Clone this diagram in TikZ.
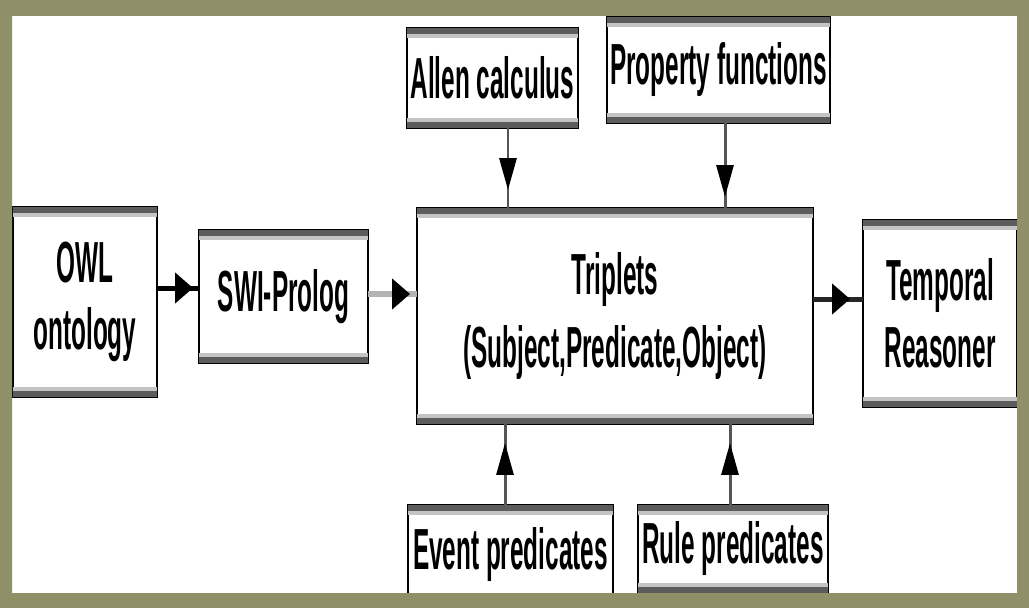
\documentclass[tikz,border=0pt]{standalone}
\usepackage{fontspec}
\setmainfont[FakeStretch=0.42,UprightFont=*,BoldFont=* Bold]{Liberation Sans}
\usetikzlibrary{arrows.meta,decorations.markings}

\definecolor{frameOlive}{HTML}{8F9068}
\definecolor{barDark}{HTML}{5C5C5C}
\definecolor{barLight}{HTML}{C4C4C4}
\definecolor{lineGray}{HTML}{555555}
\definecolor{feedGray}{HTML}{B4B4B4}

\begin{document}
\begin{tikzpicture}
[x=0.02cm,y=-0.02cm,
 blockDecorate/.style={draw,line width=0.04cm,fill=white,outer sep=0pt,inner sep=0pt,
   align=center,font=\fontsize{33}{38}\selectfont\bfseries},%
 hflow/.style={line width=0.1cm,postaction=decorate,
   decoration={markings,mark=at position -#1 with {\arrow[black]{Triangle[length=0.36cm,width=0.6cm]}}}},%
 vflow/.style={line width=0.06cm,draw=lineGray,postaction=decorate,
   decoration={markings,mark=at position -#1 with {\arrow[black]{Triangle[length=0.64cm,width=0.34cm]}}}}]
\useasboundingbox (0,0) rectangle (1029,608);
\fill[white] (0,0) rectangle (1029,608);
%% blocks
\foreach \nodename/\x/\y/\w/\h/\txt in {
  owl/85/302/2.88/3.8/{OWL\\ontology},
  swi/283.5/296.5/3.38/2.66/{SWI-Prolog},
  trip/615/316/7.92/4.32/{Triplets\\[3pt](Subject,Predicate,Object)},
  temp/940/313.5/3.08/3.74/{Temporal\\Reasoner},
  allen/492.5/78/3.42/2.0/{Allen calculus},
  prop/718.5/70/4.46/2.12/{Property functions},
  event/510.5/555/4.1/2.0/{Event predicates},
  rule/733/549/3.8/1.76/{Rule predicates}}
{
  \node[blockDecorate,minimum width=\w cm,minimum height=\h cm] (\nodename) at (\x,\y) {\txt};
  \fill[barDark] (\nodename.north west) rectangle ([yshift=-0.12cm]\nodename.north east);
  \fill[barLight] ([yshift=-0.12cm]\nodename.north west) rectangle ([yshift=-0.2cm]\nodename.north east);
  \fill[barLight] ([yshift=0.2cm]\nodename.south west) rectangle ([yshift=0.12cm]\nodename.south east);
  \fill[barDark] ([yshift=0.12cm]\nodename.south west) rectangle (\nodename.south east);
}
%% connectors
\draw[hflow=0.12cm,draw=black] ([yshift=0.28cm]owl.east) -- ([yshift=0.28cm]owl.east -| swi.west);
\draw[hflow=0.14cm,draw=feedGray,line width=0.14cm] ([yshift=0.05cm]swi.east) -- ([yshift=0.05cm]swi.east -| trip.west);
\draw[hflow=0.26cm,draw=black!85] ([yshift=0.34cm]trip.east) -- ([yshift=0.34cm]trip.east -| temp.west);
\draw[vflow=0.36cm] ([xshift=0.31cm]allen.south) -- ([xshift=0.31cm]allen.south |- trip.north);
\draw[vflow=0.22cm] ([xshift=0.13cm]prop.south) -- ([xshift=0.13cm]prop.south |- trip.north);
\draw[vflow=0.38cm] ([xshift=-0.11cm]event.north) -- ([xshift=-0.11cm]event.north |- trip.south);
\draw[vflow=0.38cm] ([xshift=-0.06cm]rule.north) -- ([xshift=-0.06cm]rule.north |- trip.south);
%% frame
\fill[frameOlive,even odd rule] (0,0) rectangle (1029,608) (12,16) rectangle (1017,593);
\end{tikzpicture}
\end{document}
